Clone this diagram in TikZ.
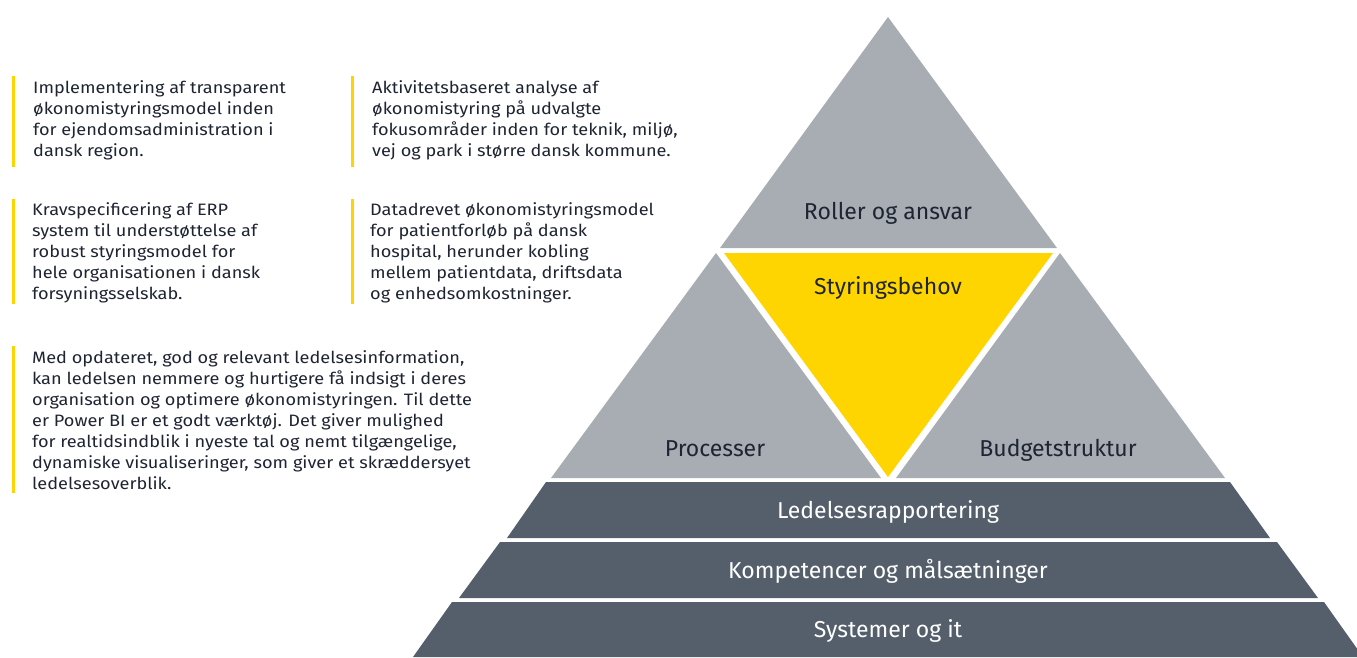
\documentclass[tikz,border=0pt]{standalone}
\usepackage{fontspec}
\setmainfont[FakeStretch=1.1]{Fira Sans}
\newfontfamily\lblfont{Fira Sans}
\definecolor{eygray}{HTML}{A7ADB3}
\definecolor{eydark}{HTML}{545F6B}
\definecolor{eyyellow}{HTML}{FFD500}
\definecolor{eytext}{HTML}{1E2432}
\tikzset{
  bodytext/.style={anchor=north west, inner sep=0pt, align=left, text=eytext,
    font=\fontsize{16.5}{21}\selectfont},
  accentbar/.style={fill=eyyellow, draw=none},
  lightpart/.style={fill=eygray, draw=none},
  darkpart/.style={fill=eydark, draw=none},
  yellowpart/.style={fill=eyyellow, draw=none},
  darklabel/.style={anchor=base, inner sep=0pt, text=eytext, font=\lblfont\fontsize{23}{27}\selectfont},
  lightlabel/.style={anchor=base, inner sep=0pt, text=white, font=\lblfont\fontsize{23}{27}\selectfont}
}
\begin{document}
\begin{tikzpicture}[x=1pt, y=-1pt]
\useasboundingbox (0,0) rectangle (1357,657);
% accent bars
\fill[accentbar] (12,76) rectangle (15,167);
\fill[accentbar] (351,76) rectangle (354,167);
\fill[accentbar] (12,199) rectangle (15,304);
\fill[accentbar] (351,199) rectangle (354,304);
\fill[accentbar] (12,346) rectangle (15,493);
% text blocks
\node[bodytext] (t1) at (33,80) {Implementering af transparent\\økonomistyringsmodel inden\\for ejendomsadministration i\\dansk region.};
\node[bodytext] (t2) at (372,80) {Aktivitetsbaseret analyse af\\økonomistyring på udvalgte\\fokusområder inden for teknik, miljø,\\vej og park i større dansk kommune.};
\node[bodytext] (t3) at (32,202) {Kravspecificering af ERP\\system til understøttelse af\\robust styringsmodel for\\hele organisationen i dansk\\forsyningsselskab.};
\node[bodytext] (t4) at (370,202) {Datadrevet økonomistyringsmodel\\for patientforløb på dansk\\hospital, herunder kobling\\mellem patientdata, driftsdata\\og enhedsomkostninger.};
\node[bodytext] (t5) at (32,350) {Med opdateret, god og relevant ledelsesinformation,\\kan ledelsen nemmere og hurtigere få indsigt i deres\\organisation og optimere økonomistyringen. Til dette\\er Power BI er et godt værktøj. Det giver mulighed\\for realtidsindblik i nyeste tal og nemt tilgængelige,\\dynamiske visualiseringer, som giver et skræddersyet\\ledelsesoverblik.};
% pyramid
\fill[lightpart] (888,17) -- (720,248) -- (1057,248) -- cycle;
\fill[yellowpart] (724,253) -- (1053,253) -- (888,477) -- cycle;
\fill[lightpart] (716,253) -- (551,478) -- (881,478) -- cycle;
\fill[lightpart] (1060,253) -- (896,478) -- (1225,478) -- cycle;
\fill[darkpart] (546,482) -- (1230,482) -- (1270,538) -- (507,538) -- cycle;
\fill[darkpart] (500,542) -- (1277,542) -- (1318,598) -- (459,598) -- cycle;
\fill[darkpart] (452,602) -- (1324,602) -- (1363,657) -- (413,657) -- cycle;
% labels
\node[darklabel] (roller) at (888,219) {Roller og ansvar};
\node[darklabel] (styr) at (888,294) {Styringsbehov};
\node[darklabel] (proc) at (715,456) {Processer};
\node[darklabel] (budget) at (1058,456) {Budgetstruktur};
\node[lightlabel] (ledelse) at (888,518) {Ledelsesrapportering};
\node[lightlabel] (komp) at (888,578) {Kompetencer og målsætninger};
\node[lightlabel] (syst) at (888,637) {Systemer og it};
\end{tikzpicture}
\end{document}
